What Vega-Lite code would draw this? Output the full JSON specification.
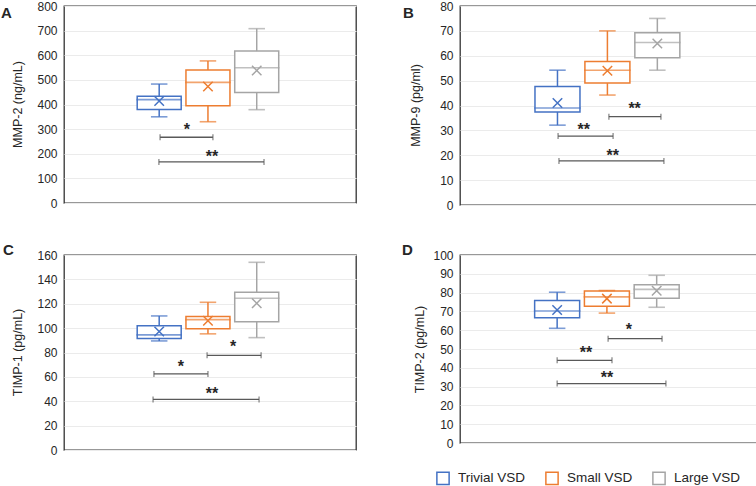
{
  "$schema": "https://vega.github.io/schema/vega-lite/v6.json",
  "padding": {"left": 0, "top": -1, "right": 0, "bottom": 0},
  "config": {
    "font": "Liberation Sans",
    "view": {"stroke": "#333333", "strokeWidth": 1.3},
    "axis": {"domain": false, "ticks": false, "gridColor": "#ebebeb", "gridWidth": 1, "labelFontSize": 12, "labelColor": "#262626", "labelPadding": 7, "titleFontSize": 12.5, "titleFontWeight": "normal", "titleColor": "#262626"},
    "axisY": {"tickCount": 8},
    "legend": {"symbolFillColor": "white"},
    "title": {"fontSize": 15, "fontWeight": "bold", "color": "#262626", "anchor": "start", "frame": "bounds"}
  },
  "datasets": {
    "boxes": [
      {"panel": "A", "group": "Trivial VSD", "pos": 0.326, "lo": 350, "q1": 380, "med": 420, "q3": 433, "hi": 483, "mean": 414},
      {"panel": "A", "group": "Small VSD", "pos": 0.493, "lo": 330, "q1": 395, "med": 490, "q3": 540, "hi": 577, "mean": 473},
      {"panel": "A", "group": "Large VSD", "pos": 0.66, "lo": 379, "q1": 449, "med": 549, "q3": 617, "hi": 708, "mean": 538},
      {"panel": "B", "group": "Trivial VSD", "pos": 0.326, "lo": 32.1, "q1": 37.4, "med": 39, "q3": 47.6, "hi": 54.2, "mean": 41},
      {"panel": "B", "group": "Small VSD", "pos": 0.493, "lo": 44.2, "q1": 49, "med": 54.2, "q3": 57.7, "hi": 70, "mean": 54},
      {"panel": "B", "group": "Large VSD", "pos": 0.66, "lo": 54.2, "q1": 59.2, "med": 65.3, "q3": 69.2, "hi": 75, "mean": 64.9},
      {"panel": "C", "group": "Trivial VSD", "pos": 0.326, "lo": 89.5, "q1": 91.4, "med": 94.5, "q3": 102, "hi": 110, "mean": 97.2},
      {"panel": "C", "group": "Small VSD", "pos": 0.493, "lo": 95.3, "q1": 99.5, "med": 107, "q3": 109.5, "hi": 121.2, "mean": 106},
      {"panel": "C", "group": "Large VSD", "pos": 0.66, "lo": 92.2, "q1": 105.3, "med": 124.5, "q3": 129.5, "hi": 154, "mean": 120.4},
      {"panel": "D", "group": "Trivial VSD", "pos": 0.326, "lo": 61, "q1": 66.6, "med": 70.2, "q3": 75.8, "hi": 80.2, "mean": 70.7},
      {"panel": "D", "group": "Small VSD", "pos": 0.493, "lo": 69.1, "q1": 72.7, "med": 77.7, "q3": 80.8, "hi": 81.1, "mean": 76.8},
      {"panel": "D", "group": "Large VSD", "pos": 0.66, "lo": 72.2, "q1": 77, "med": 81.7, "q3": 84.2, "hi": 89.2, "mean": 81}
    ],
    "brackets": [
      {"panel": "A", "x1": 0.329, "x2": 0.51, "y": 267, "label": "*", "xt": 0.421, "yt": 307},
      {"panel": "A", "x1": 0.325, "x2": 0.685, "y": 167, "label": "**", "xt": 0.507, "yt": 200},
      {"panel": "B", "x1": 0.498, "x2": 0.672, "y": 35.5, "label": "**", "xt": 0.584, "yt": 40},
      {"panel": "B", "x1": 0.328, "x2": 0.512, "y": 27.7, "label": "**", "xt": 0.414, "yt": 31.2},
      {"panel": "B", "x1": 0.331, "x2": 0.682, "y": 17.7, "label": "**", "xt": 0.511, "yt": 20.8},
      {"panel": "C", "x1": 0.49, "x2": 0.675, "y": 77.7, "label": "*", "xt": 0.579, "yt": 86.6},
      {"panel": "C", "x1": 0.308, "x2": 0.493, "y": 62.4, "label": "*", "xt": 0.40, "yt": 70.7},
      {"panel": "C", "x1": 0.305, "x2": 0.668, "y": 41.5, "label": "**", "xt": 0.507, "yt": 48.5},
      {"panel": "D", "x1": 0.497, "x2": 0.678, "y": 55.5, "label": "*", "xt": 0.567, "yt": 61.6},
      {"panel": "D", "x1": 0.326, "x2": 0.51, "y": 44, "label": "**", "xt": 0.423, "yt": 49.4},
      {"panel": "D", "x1": 0.326, "x2": 0.691, "y": 31.6, "label": "**", "xt": 0.493, "yt": 36}
    ]
  },
  "columns": 2,
  "spacing": {"column": 44, "row": 30},
  "resolve": {"scale": {"stroke": "shared"}},
  "concat": [
    {
      "width": 292, "height": 197,
      "title": {"text": "A", "dx": -10, "dy": 25},
      "layer": [
        {"data": {"name": "boxes"}, "transform": [{"filter": "datum.panel === 'A'"}], "mark": {"type": "bar", "size": 44, "fill": "white", "strokeWidth": 1.5},
         "encoding": {"x": {"field": "pos", "type": "quantitative", "scale": {"domain": [0, 1], "padding": 0, "nice": false, "zero": false}, "axis": null},
           "y": {"field": "q1", "type": "quantitative", "scale": {"domain": [0, 800]}, "axis": {"title": "MMP-2 (ng/mL)", "titleX": -47, "titleY": 98, "titleBaseline": "middle", "titleAlign": "center", "titleAngle": -90}},
           "y2": {"field": "q3"},
           "stroke": {"field": "group", "type": "nominal", "title": null, "scale": {"domain": ["Trivial VSD", "Small VSD", "Large VSD"], "range": ["#4472C4", "#ED7D31", "#A5A5A5"]},
             "legend": {"orient": "none", "direction": "horizontal", "legendX": 372, "legendY": 465, "symbolType": "square", "symbolSize": 150, "symbolStrokeWidth": 1.5, "symbolFillColor": "white", "labelFontSize": 13.5, "labelColor": "#262626", "columnPadding": 16, "labelOffset": 8}}}},
        {"data": {"name": "boxes"}, "transform": [{"filter": "datum.panel === 'A'"}], "mark": {"type": "rule", "strokeWidth": 1.5},
         "encoding": {"x": {"field": "pos", "type": "quantitative"}, "y": {"field": "lo", "type": "quantitative"}, "y2": {"field": "q1"}, "stroke": {"field": "group", "type": "nominal"}}},
        {"data": {"name": "boxes"}, "transform": [{"filter": "datum.panel === 'A'"}], "mark": {"type": "rule", "strokeWidth": 1.5},
         "encoding": {"x": {"field": "pos", "type": "quantitative"}, "y": {"field": "q3", "type": "quantitative"}, "y2": {"field": "hi"}, "stroke": {"field": "group", "type": "nominal"}}},
        {"data": {"name": "boxes"}, "transform": [{"filter": "datum.panel === 'A'"}], "mark": {"type": "tick", "orient": "horizontal", "size": 15, "thickness": 0.1, "filled": false, "strokeWidth": 1.5},
         "encoding": {"x": {"field": "pos", "type": "quantitative"}, "y": {"field": "lo", "type": "quantitative"}, "stroke": {"field": "group", "type": "nominal"}}},
        {"data": {"name": "boxes"}, "transform": [{"filter": "datum.panel === 'A'"}], "mark": {"type": "tick", "orient": "horizontal", "size": 15, "thickness": 0.1, "filled": false, "strokeWidth": 1.5},
         "encoding": {"x": {"field": "pos", "type": "quantitative"}, "y": {"field": "hi", "type": "quantitative"}, "stroke": {"field": "group", "type": "nominal"}}},
        {"data": {"name": "boxes"}, "transform": [{"filter": "datum.panel === 'A'"}], "mark": {"type": "tick", "orient": "horizontal", "size": 44, "thickness": 0.1, "filled": false, "strokeWidth": 1.5},
         "encoding": {"x": {"field": "pos", "type": "quantitative"}, "y": {"field": "med", "type": "quantitative"}, "stroke": {"field": "group", "type": "nominal"}}},
        {"data": {"name": "boxes"}, "transform": [{"filter": "datum.panel === 'A'"}], "mark": {"type": "point", "shape": "M-1,-1L1,1M-1,1L1,-1", "size": 90, "filled": false, "strokeWidth": 1.5, "opacity": 1},
         "encoding": {"x": {"field": "pos", "type": "quantitative"}, "y": {"field": "mean", "type": "quantitative"}, "stroke": {"field": "group", "type": "nominal"}}},
        {"data": {"name": "brackets"}, "transform": [{"filter": "datum.panel === 'A'"}], "mark": {"type": "rule", "color": "#595959", "strokeWidth": 1.3},
         "encoding": {"x": {"field": "x1", "type": "quantitative"}, "x2": {"field": "x2"}, "y": {"field": "y", "type": "quantitative"}}},
        {"data": {"name": "brackets"}, "transform": [{"filter": "datum.panel === 'A'"}], "mark": {"type": "tick", "orient": "vertical", "size": 6, "thickness": 1.3, "color": "#595959"},
         "encoding": {"x": {"field": "x1", "type": "quantitative"}, "y": {"field": "y", "type": "quantitative"}}},
        {"data": {"name": "brackets"}, "transform": [{"filter": "datum.panel === 'A'"}], "mark": {"type": "tick", "orient": "vertical", "size": 6, "thickness": 1.3, "color": "#595959"},
         "encoding": {"x": {"field": "x2", "type": "quantitative"}, "y": {"field": "y", "type": "quantitative"}}},
        {"data": {"name": "brackets"}, "transform": [{"filter": "datum.panel === 'A'"}], "mark": {"type": "text", "fontSize": 16, "fontWeight": "bold", "color": "#262626", "baseline": "alphabetic", "dy": 8, "align": "center"},
         "encoding": {"x": {"field": "xt", "type": "quantitative"}, "y": {"field": "yt", "type": "quantitative"}, "text": {"field": "label"}}}
      ]
    },
    {
      "width": 299, "height": 199,
      "title": {"text": "B", "dx": -6, "dy": 25},
      "layer": [
        {"data": {"name": "boxes"}, "transform": [{"filter": "datum.panel === 'B'"}], "mark": {"type": "bar", "size": 45, "fill": "white", "strokeWidth": 1.5},
         "encoding": {"x": {"field": "pos", "type": "quantitative", "scale": {"domain": [0, 1], "padding": 0, "nice": false, "zero": false}, "axis": null},
           "y": {"field": "q1", "type": "quantitative", "scale": {"domain": [0, 80]}, "axis": {"title": "MMP-9 (pg/ml)", "titleX": -45, "titleY": 99, "titleBaseline": "middle", "titleAlign": "center", "titleAngle": -90}},
           "y2": {"field": "q3"},
           "stroke": {"field": "group", "type": "nominal"}}},
        {"data": {"name": "boxes"}, "transform": [{"filter": "datum.panel === 'B'"}], "mark": {"type": "rule", "strokeWidth": 1.5},
         "encoding": {"x": {"field": "pos", "type": "quantitative"}, "y": {"field": "lo", "type": "quantitative"}, "y2": {"field": "q1"}, "stroke": {"field": "group", "type": "nominal"}}},
        {"data": {"name": "boxes"}, "transform": [{"filter": "datum.panel === 'B'"}], "mark": {"type": "rule", "strokeWidth": 1.5},
         "encoding": {"x": {"field": "pos", "type": "quantitative"}, "y": {"field": "q3", "type": "quantitative"}, "y2": {"field": "hi"}, "stroke": {"field": "group", "type": "nominal"}}},
        {"data": {"name": "boxes"}, "transform": [{"filter": "datum.panel === 'B'"}], "mark": {"type": "tick", "orient": "horizontal", "size": 15, "thickness": 0.1, "filled": false, "strokeWidth": 1.5},
         "encoding": {"x": {"field": "pos", "type": "quantitative"}, "y": {"field": "lo", "type": "quantitative"}, "stroke": {"field": "group", "type": "nominal"}}},
        {"data": {"name": "boxes"}, "transform": [{"filter": "datum.panel === 'B'"}], "mark": {"type": "tick", "orient": "horizontal", "size": 15, "thickness": 0.1, "filled": false, "strokeWidth": 1.5},
         "encoding": {"x": {"field": "pos", "type": "quantitative"}, "y": {"field": "hi", "type": "quantitative"}, "stroke": {"field": "group", "type": "nominal"}}},
        {"data": {"name": "boxes"}, "transform": [{"filter": "datum.panel === 'B'"}], "mark": {"type": "tick", "orient": "horizontal", "size": 45, "thickness": 0.1, "filled": false, "strokeWidth": 1.5},
         "encoding": {"x": {"field": "pos", "type": "quantitative"}, "y": {"field": "med", "type": "quantitative"}, "stroke": {"field": "group", "type": "nominal"}}},
        {"data": {"name": "boxes"}, "transform": [{"filter": "datum.panel === 'B'"}], "mark": {"type": "point", "shape": "M-1,-1L1,1M-1,1L1,-1", "size": 90, "filled": false, "strokeWidth": 1.5, "opacity": 1},
         "encoding": {"x": {"field": "pos", "type": "quantitative"}, "y": {"field": "mean", "type": "quantitative"}, "stroke": {"field": "group", "type": "nominal"}}},
        {"data": {"name": "brackets"}, "transform": [{"filter": "datum.panel === 'B'"}], "mark": {"type": "rule", "color": "#595959", "strokeWidth": 1.3},
         "encoding": {"x": {"field": "x1", "type": "quantitative"}, "x2": {"field": "x2"}, "y": {"field": "y", "type": "quantitative"}}},
        {"data": {"name": "brackets"}, "transform": [{"filter": "datum.panel === 'B'"}], "mark": {"type": "tick", "orient": "vertical", "size": 6, "thickness": 1.3, "color": "#595959"},
         "encoding": {"x": {"field": "x1", "type": "quantitative"}, "y": {"field": "y", "type": "quantitative"}}},
        {"data": {"name": "brackets"}, "transform": [{"filter": "datum.panel === 'B'"}], "mark": {"type": "tick", "orient": "vertical", "size": 6, "thickness": 1.3, "color": "#595959"},
         "encoding": {"x": {"field": "x2", "type": "quantitative"}, "y": {"field": "y", "type": "quantitative"}}},
        {"data": {"name": "brackets"}, "transform": [{"filter": "datum.panel === 'B'"}], "mark": {"type": "text", "fontSize": 16, "fontWeight": "bold", "color": "#262626", "baseline": "alphabetic", "dy": 8, "align": "center"},
         "encoding": {"x": {"field": "xt", "type": "quantitative"}, "y": {"field": "yt", "type": "quantitative"}, "text": {"field": "label"}}}
      ]
    },
    {
      "width": 292, "height": 195,
      "title": {"text": "C", "dx": -8, "dy": 13},
      "layer": [
        {"data": {"name": "boxes"}, "transform": [{"filter": "datum.panel === 'C'"}], "mark": {"type": "bar", "size": 44, "fill": "white", "strokeWidth": 1.5},
         "encoding": {"x": {"field": "pos", "type": "quantitative", "scale": {"domain": [0, 1], "padding": 0, "nice": false, "zero": false}, "axis": null},
           "y": {"field": "q1", "type": "quantitative", "scale": {"domain": [0, 160]}, "axis": {"title": "TIMP-1 (pg/mL)", "titleX": -47, "titleY": 97, "titleBaseline": "middle", "titleAlign": "center", "titleAngle": -90}},
           "y2": {"field": "q3"},
           "stroke": {"field": "group", "type": "nominal"}}},
        {"data": {"name": "boxes"}, "transform": [{"filter": "datum.panel === 'C'"}], "mark": {"type": "rule", "strokeWidth": 1.5},
         "encoding": {"x": {"field": "pos", "type": "quantitative"}, "y": {"field": "lo", "type": "quantitative"}, "y2": {"field": "q1"}, "stroke": {"field": "group", "type": "nominal"}}},
        {"data": {"name": "boxes"}, "transform": [{"filter": "datum.panel === 'C'"}], "mark": {"type": "rule", "strokeWidth": 1.5},
         "encoding": {"x": {"field": "pos", "type": "quantitative"}, "y": {"field": "q3", "type": "quantitative"}, "y2": {"field": "hi"}, "stroke": {"field": "group", "type": "nominal"}}},
        {"data": {"name": "boxes"}, "transform": [{"filter": "datum.panel === 'C'"}], "mark": {"type": "tick", "orient": "horizontal", "size": 15, "thickness": 0.1, "filled": false, "strokeWidth": 1.5},
         "encoding": {"x": {"field": "pos", "type": "quantitative"}, "y": {"field": "lo", "type": "quantitative"}, "stroke": {"field": "group", "type": "nominal"}}},
        {"data": {"name": "boxes"}, "transform": [{"filter": "datum.panel === 'C'"}], "mark": {"type": "tick", "orient": "horizontal", "size": 15, "thickness": 0.1, "filled": false, "strokeWidth": 1.5},
         "encoding": {"x": {"field": "pos", "type": "quantitative"}, "y": {"field": "hi", "type": "quantitative"}, "stroke": {"field": "group", "type": "nominal"}}},
        {"data": {"name": "boxes"}, "transform": [{"filter": "datum.panel === 'C'"}], "mark": {"type": "tick", "orient": "horizontal", "size": 44, "thickness": 0.1, "filled": false, "strokeWidth": 1.5},
         "encoding": {"x": {"field": "pos", "type": "quantitative"}, "y": {"field": "med", "type": "quantitative"}, "stroke": {"field": "group", "type": "nominal"}}},
        {"data": {"name": "boxes"}, "transform": [{"filter": "datum.panel === 'C'"}], "mark": {"type": "point", "shape": "M-1,-1L1,1M-1,1L1,-1", "size": 90, "filled": false, "strokeWidth": 1.5, "opacity": 1},
         "encoding": {"x": {"field": "pos", "type": "quantitative"}, "y": {"field": "mean", "type": "quantitative"}, "stroke": {"field": "group", "type": "nominal"}}},
        {"data": {"name": "brackets"}, "transform": [{"filter": "datum.panel === 'C'"}], "mark": {"type": "rule", "color": "#595959", "strokeWidth": 1.3},
         "encoding": {"x": {"field": "x1", "type": "quantitative"}, "x2": {"field": "x2"}, "y": {"field": "y", "type": "quantitative"}}},
        {"data": {"name": "brackets"}, "transform": [{"filter": "datum.panel === 'C'"}], "mark": {"type": "tick", "orient": "vertical", "size": 6, "thickness": 1.3, "color": "#595959"},
         "encoding": {"x": {"field": "x1", "type": "quantitative"}, "y": {"field": "y", "type": "quantitative"}}},
        {"data": {"name": "brackets"}, "transform": [{"filter": "datum.panel === 'C'"}], "mark": {"type": "tick", "orient": "vertical", "size": 6, "thickness": 1.3, "color": "#595959"},
         "encoding": {"x": {"field": "x2", "type": "quantitative"}, "y": {"field": "y", "type": "quantitative"}}},
        {"data": {"name": "brackets"}, "transform": [{"filter": "datum.panel === 'C'"}], "mark": {"type": "text", "fontSize": 16, "fontWeight": "bold", "color": "#262626", "baseline": "alphabetic", "dy": 8, "align": "center"},
         "encoding": {"x": {"field": "xt", "type": "quantitative"}, "y": {"field": "yt", "type": "quantitative"}, "text": {"field": "label"}}}
      ]
    },
    {
      "width": 298, "height": 188,
      "title": {"text": "D", "dx": -11, "dy": 13},
      "layer": [
        {"data": {"name": "boxes"}, "transform": [{"filter": "datum.panel === 'D'"}], "mark": {"type": "bar", "size": 45, "fill": "white", "strokeWidth": 1.5},
         "encoding": {"x": {"field": "pos", "type": "quantitative", "scale": {"domain": [0, 1], "padding": 0, "nice": false, "zero": false}, "axis": null},
           "y": {"field": "q1", "type": "quantitative", "scale": {"domain": [0, 100]}, "axis": {"title": "TIMP-2 (pg/mL)", "titleX": -41, "titleY": 94, "titleBaseline": "middle", "titleAlign": "center", "titleAngle": -90}},
           "y2": {"field": "q3"},
           "stroke": {"field": "group", "type": "nominal"}}},
        {"data": {"name": "boxes"}, "transform": [{"filter": "datum.panel === 'D'"}], "mark": {"type": "rule", "strokeWidth": 1.5},
         "encoding": {"x": {"field": "pos", "type": "quantitative"}, "y": {"field": "lo", "type": "quantitative"}, "y2": {"field": "q1"}, "stroke": {"field": "group", "type": "nominal"}}},
        {"data": {"name": "boxes"}, "transform": [{"filter": "datum.panel === 'D'"}], "mark": {"type": "rule", "strokeWidth": 1.5},
         "encoding": {"x": {"field": "pos", "type": "quantitative"}, "y": {"field": "q3", "type": "quantitative"}, "y2": {"field": "hi"}, "stroke": {"field": "group", "type": "nominal"}}},
        {"data": {"name": "boxes"}, "transform": [{"filter": "datum.panel === 'D'"}], "mark": {"type": "tick", "orient": "horizontal", "size": 15, "thickness": 0.1, "filled": false, "strokeWidth": 1.5},
         "encoding": {"x": {"field": "pos", "type": "quantitative"}, "y": {"field": "lo", "type": "quantitative"}, "stroke": {"field": "group", "type": "nominal"}}},
        {"data": {"name": "boxes"}, "transform": [{"filter": "datum.panel === 'D'"}], "mark": {"type": "tick", "orient": "horizontal", "size": 15, "thickness": 0.1, "filled": false, "strokeWidth": 1.5},
         "encoding": {"x": {"field": "pos", "type": "quantitative"}, "y": {"field": "hi", "type": "quantitative"}, "stroke": {"field": "group", "type": "nominal"}}},
        {"data": {"name": "boxes"}, "transform": [{"filter": "datum.panel === 'D'"}], "mark": {"type": "tick", "orient": "horizontal", "size": 45, "thickness": 0.1, "filled": false, "strokeWidth": 1.5},
         "encoding": {"x": {"field": "pos", "type": "quantitative"}, "y": {"field": "med", "type": "quantitative"}, "stroke": {"field": "group", "type": "nominal"}}},
        {"data": {"name": "boxes"}, "transform": [{"filter": "datum.panel === 'D'"}], "mark": {"type": "point", "shape": "M-1,-1L1,1M-1,1L1,-1", "size": 90, "filled": false, "strokeWidth": 1.5, "opacity": 1},
         "encoding": {"x": {"field": "pos", "type": "quantitative"}, "y": {"field": "mean", "type": "quantitative"}, "stroke": {"field": "group", "type": "nominal"}}},
        {"data": {"name": "brackets"}, "transform": [{"filter": "datum.panel === 'D'"}], "mark": {"type": "rule", "color": "#595959", "strokeWidth": 1.3},
         "encoding": {"x": {"field": "x1", "type": "quantitative"}, "x2": {"field": "x2"}, "y": {"field": "y", "type": "quantitative"}}},
        {"data": {"name": "brackets"}, "transform": [{"filter": "datum.panel === 'D'"}], "mark": {"type": "tick", "orient": "vertical", "size": 6, "thickness": 1.3, "color": "#595959"},
         "encoding": {"x": {"field": "x1", "type": "quantitative"}, "y": {"field": "y", "type": "quantitative"}}},
        {"data": {"name": "brackets"}, "transform": [{"filter": "datum.panel === 'D'"}], "mark": {"type": "tick", "orient": "vertical", "size": 6, "thickness": 1.3, "color": "#595959"},
         "encoding": {"x": {"field": "x2", "type": "quantitative"}, "y": {"field": "y", "type": "quantitative"}}},
        {"data": {"name": "brackets"}, "transform": [{"filter": "datum.panel === 'D'"}], "mark": {"type": "text", "fontSize": 16, "fontWeight": "bold", "color": "#262626", "baseline": "alphabetic", "dy": 8, "align": "center"},
         "encoding": {"x": {"field": "xt", "type": "quantitative"}, "y": {"field": "yt", "type": "quantitative"}, "text": {"field": "label"}}}
      ]
    }
  ]
}
